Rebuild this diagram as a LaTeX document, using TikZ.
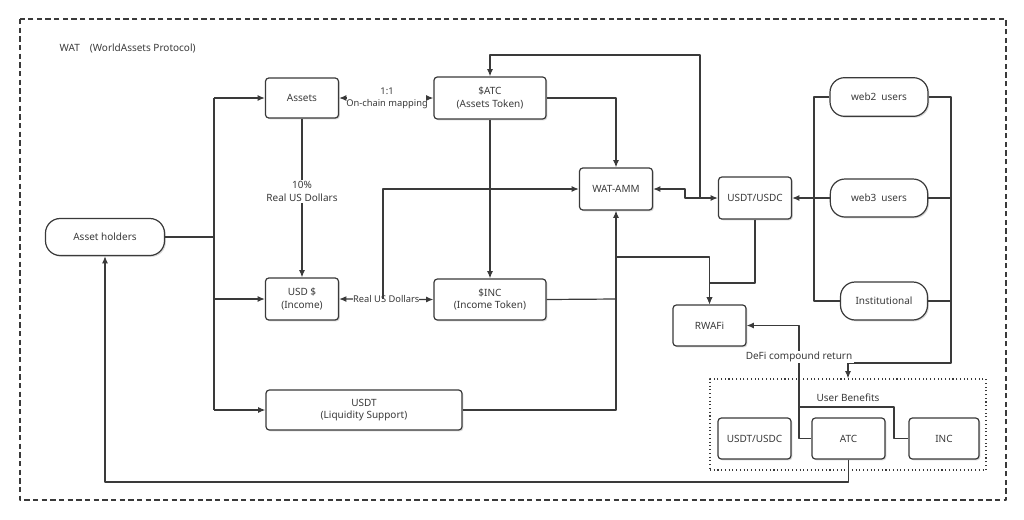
\documentclass[tikz,border=0pt]{standalone}
\usepackage{fontspec}
\setmainfont{Noto Sans}
\usetikzlibrary{arrows.meta,shadows}
\definecolor{ink}{HTML}{3A3A3A}
\begin{document}
\begin{tikzpicture}[x=0.75pt,y=-0.75pt,line join=round,
  txt/.style={font=\fontsize{7.5}{9.5}\selectfont,text=ink},
  ln/.style={draw=ink,line width=0.9pt},
  arr/.style={ln,-{Latex[length=5.5pt,width=4.5pt]}},
  darr/.style={ln,{Latex[length=5.5pt,width=4.5pt]}-{Latex[length=5.5pt,width=4.5pt]}},
  box/.style={txt,draw=ink,line width=0.9pt,rounded corners=2.5pt,fill=white,
    drop shadow={shadow xshift=1pt,shadow yshift=-1pt,fill=black!30,opacity=0.5},
    align=center,inner sep=0pt},
  pill/.style={box,rounded corners=11pt},
  lbl/.style={txt,align=center,fill=white,inner sep=1pt},
  slbl/.style={lbl,font=\fontsize{7}{9}\selectfont,inner xsep=0pt,inner ysep=0.5pt}]
\useasboundingbox (0,0) rectangle (1024,519);
\fill[white] (0,0) rectangle (1024,519);
% outer frame
\draw[draw=ink,line width=0.8pt,dash pattern=on 4pt off 2.5pt] (20,19) rectangle (1006,500);
\node[txt,anchor=west] (title) at (55,48) {WAT\quad(WorldAssets Protocol)};
% user benefits group
\node[draw=ink,line width=0.8pt,dotted,minimum width=207pt,minimum height=68.25pt] (ub) at (848,424.5) {};
\node[txt] (ubl) at (848,398) {User Benefits};
% nodes
\node[box,minimum width=54.75pt,minimum height=30pt] (assets) at (302,98) {Assets};
\node[box,minimum width=84pt,minimum height=31.5pt] (atc) at (490,98) {\$ATC\\(Assets Token)};
\node[box,minimum width=54.75pt,minimum height=31.5pt] (wat) at (616,189) {WAT-AMM};
\node[box,minimum width=54.75pt,minimum height=31.5pt] (usdtc) at (755,198) {USDT/USDC};
\node[pill,minimum width=73.5pt,minimum height=29pt] (web2) at (879,97) {web2\enspace users};
\node[pill,minimum width=73pt,minimum height=28.5pt] (web3) at (879,198) {web3\enspace users};
\node[pill,minimum width=65.25pt,minimum height=28.5pt] (inst) at (884,301) {Institutional};
\node[pill,minimum width=89.25pt,minimum height=27.75pt] (ah) at (105,237) {Asset holders};
\node[box,minimum width=54.75pt,minimum height=31.5pt] (usd) at (302,299) {USD \$\\(Income)};
\node[box,minimum width=84pt,minimum height=30.75pt] (inc) at (490,299.5) {\$INC\\(Income Token)};
\node[box,minimum width=147pt,minimum height=30pt] (usdtl) at (364,410) {USDT\\(Liquidity Support)};
\node[box,minimum width=54.75pt,minimum height=30.75pt] (rwa) at (709.5,325.5) {RWAFi};
\node[box,minimum width=54.75pt,minimum height=30.75pt] (uusd) at (754.5,438.5) {USDT/USDC};
\node[box,minimum width=54.75pt,minimum height=30.75pt] (uatc) at (848.5,438.5) {ATC};
\node[box,minimum width=52.5pt,minimum height=30.75pt] (uinc) at (944,438.5) {INC};
% junction coordinates
\coordinate (tA) at (214,237);
\coordinate (tTop) at (214,98);
\coordinate (tUsd) at (214,299);
\coordinate (tBot) at (214,410);
\coordinate (j383) at (383,299);
\coordinate (j616) at (616,299);
\coordinate (j616b) at (616,257);
\coordinate (j700) at (700,198);
\coordinate (lTop) at (814,97);
\coordinate (lBot) at (814,301);
\coordinate (rTop) at (951,97);
\coordinate (r3) at (951,198);
\coordinate (r4) at (951,301);
\coordinate (jDefi) at (799,407);
% left trunk
\draw[ln] (ah.east) -- (tA);
\draw[ln] (tTop) -- (tBot);
\draw[arr] (tTop) -- (assets.west);
\draw[arr] (tUsd) -- (usd.west);
\draw[arr] (tBot) -- (usdtl.west);
% assets / tokens
\draw[arr] (assets.south) -- node[lbl,pos=0.46]{10\%\\Real US Dollars} (usd.north);
\node[slbl] (map) at (387,98) {1:1\\On-chain mapping};
\draw[{Latex[length=5.5pt,width=4.5pt]}-,ln] (assets.east) -- (map.west);
\draw[-{Latex[length=5.5pt,width=4.5pt]},ln] (map.east) -- (atc.west);
\draw[arr] (atc.south) -- (inc.north);
\draw[arr] (atc.east) -| (wat.north);
\draw[arr] (j700) -- (700,55) -| (atc.north);
\draw[darr] (wat.east) -- (685,189) -- (685,198) -- (usdtc.west);
\draw[darr] (usd.east) -- node[slbl]{Real US Dollars} (inc.west);
\draw[arr] (j383) -- (383,189) -- (wat.west);
\draw[arr] (usdtl.east) -| (wat.south);
\draw[ln] (inc.east) -- (j616);
\draw[arr] (j616b) -| (rwa.north);
\draw[arr] (usdtc.south) -- (755,283) -| (rwa.north);
% users
\draw[arr] (web3.west) -- (usdtc.east);
\draw[ln] (web2.west) -- (lTop) -- (lBot) -- (inst.west);
\draw[arr] (web2.east) -- (rTop) -- (951,363) -| (ub.north);
\draw[ln] (web3.east) -- (r3);
\draw[ln] (inst.east) -- (r4);
% benefits back
\draw[arr] (uatc.west) -- (799,438.5) -- (799,325.5) -- (rwa.east);
\draw[ln] (uinc.west) -- (894,438.5) -- (894,407) -- (jDefi);
\node[lbl] (defi) at (799,357) {DeFi compound return};
\draw[arr] (uatc.south) -- (848.5,482) -| (ah.south);
\end{tikzpicture}
\end{document}
